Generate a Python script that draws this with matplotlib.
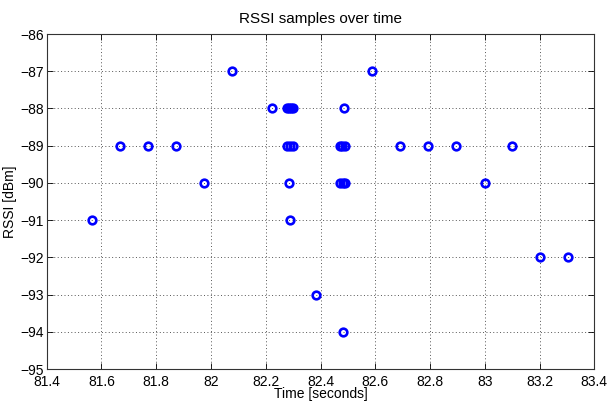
import numpy as np
import matplotlib
matplotlib.use("Agg")
import matplotlib.pyplot as plt

plt.rcParams['font.family'] = ['Liberation Sans', 'DejaVu Sans']

# RSSI samples (time in seconds, rssi in dBm)
time_s = [81.564, 81.668, 81.770, 81.871, 81.975, 82.078, 82.224,
          82.276, 82.284, 82.292, 82.298,
          82.279, 82.289, 82.298,
          82.284, 82.290, 82.384,
          82.487, 82.472, 82.480, 82.490,
          82.472, 82.481, 82.490, 82.483,
          82.589, 82.692, 82.793, 82.895, 83.000, 83.099, 83.203, 83.304]
rssi = [-91, -89, -89, -89, -90, -87, -88,
        -88, -88, -88, -88,
        -89, -89, -89,
        -90, -91, -93,
        -88, -89, -89, -89,
        -90, -90, -90, -94,
        -87, -89, -89, -89, -90, -89, -92, -92]

xticks = np.round(np.arange(81.4, 83.41, 0.2), 1)
xticklabels = ['81.4', '81.6', '81.8', '82', '82.2', '82.4', '82.6', '82.8', '83', '83.2', '83.4']
yticks = np.arange(-95, -85, 1)

fig = plt.figure(figsize=(6.11, 4.04), dpi=100)
ax = fig.add_axes([0.0764, 0.0866, 0.8963, 0.8292])

ax.plot(time_s, rssi, 'o', linestyle='none', markerfacecolor='none',
        markeredgecolor='#0000ff', markersize=5.5, markeredgewidth=1.9)

ax.set_xlim(81.4, 83.4)
ax.set_ylim(-95, -86)
ax.set_xticks(xticks)
ax.set_xticklabels(xticklabels)
ax.set_yticks(yticks)
ax.tick_params(direction='in', top=True, right=True, length=4, width=0.6,
               labelsize=10)
ax.tick_params(axis='x', pad=4)
ax.tick_params(axis='y', pad=2)
ax.grid(True, linestyle=(0, (1, 2.5)), color='#555555', linewidth=0.7)
for s in ax.spines.values():
    s.set_linewidth(0.8)
    s.set_color('#333333')

ax.set_title('RSSI samples over time', fontsize=11, pad=8)
ax.set_xlabel('Time [seconds]', fontsize=10, labelpad=-1)
ax.set_ylabel('RSSI [dBm]', fontsize=10, labelpad=2)

fig.savefig('out.png', dpi=100)
